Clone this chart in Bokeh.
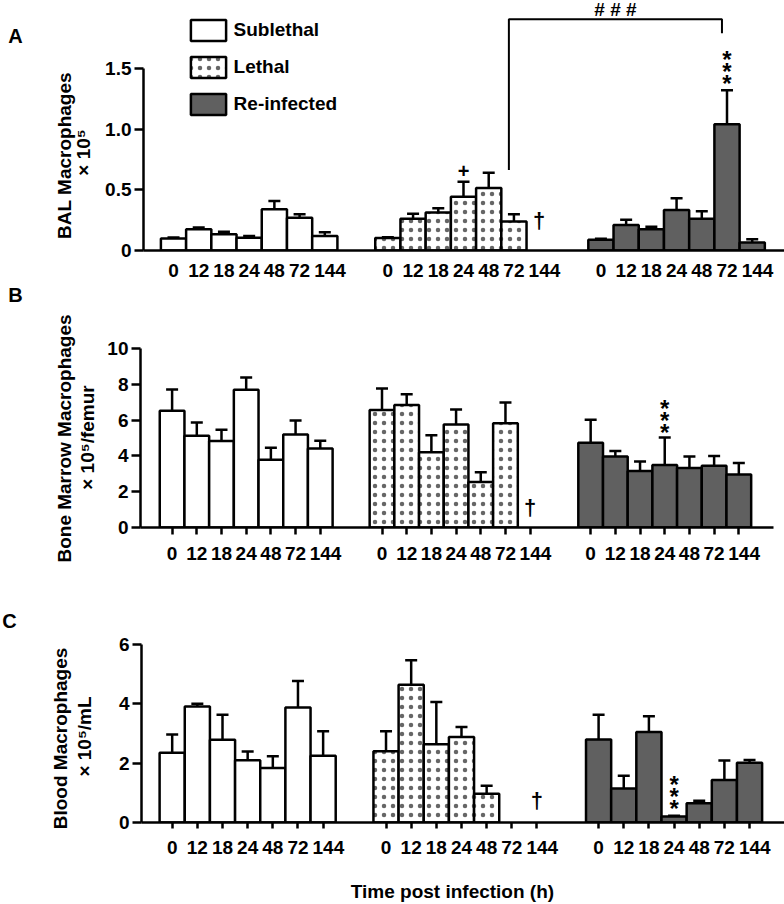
import math
from bokeh.plotting import figure
from bokeh.layouts import column, row
from bokeh.models import (ColumnDataSource, Whisker, TeeHead, Legend, LegendItem,
                          FixedTicker, Range1d, Plot)
from bokeh.core.properties import value
from bokeh.embed import file_html
from bokeh.resources import INLINE

NAN = float("nan")
FONT = "Liberation Sans"

hours = ["0", "12", "18", "24", "48", "72", "144"]
groups = ["Sublethal", "Lethal", "Re-infected"]

# Panel A: BAL macrophages (x 10^5)
bal_sub = [0.10, 0.175, 0.135, 0.105, 0.34, 0.27, 0.12]
bal_sub_err = [0.008, 0.015, 0.02, 0.015, 0.07, 0.03, 0.03]
bal_let = [0.104, 0.262, 0.314, 0.445, 0.516, 0.24, NAN]
bal_let_err = [0.006, 0.041, 0.036, 0.123, 0.126, 0.06, NAN]
bal_rei = [0.088, 0.21, 0.175, 0.334, 0.262, 1.043, 0.066]
bal_rei_err = [0.01, 0.044, 0.022, 0.098, 0.063, 0.282, 0.027]

# Panel B: bone marrow macrophages (x 10^5/femur)
bm_sub = [6.52, 5.12, 4.83, 7.69, 3.78, 5.2, 4.41]
bm_sub_err = [1.19, 0.75, 0.63, 0.69, 0.67, 0.78, 0.43]
bm_let = [6.57, 6.84, 4.21, 5.75, 2.54, 5.83, NAN]
bm_let_err = [1.2, 0.61, 0.95, 0.84, 0.55, 1.15, NAN]
bm_rei = [4.73, 3.97, 3.15, 3.49, 3.32, 3.45, 2.96]
bm_rei_err = [1.29, 0.31, 0.54, 1.54, 0.65, 0.55, 0.65]

# Panel C: blood macrophages (x 10^5/mL)
bl_sub = [2.35, 3.91, 2.79, 2.10, 1.84, 3.88, 2.25]
bl_sub_err = [0.62, 0.09, 0.84, 0.29, 0.39, 0.89, 0.83]
bl_let = [2.40, 4.64, 2.64, 2.88, 0.97, NAN, NAN]
bl_let_err = [0.68, 0.83, 1.42, 0.34, 0.27, NAN, NAN]
bl_rei = [2.80, 1.15, 3.05, 0.20, 0.65, 1.43, 2.01]
bl_rei_err = [0.83, 0.43, 0.53, 0.03, 0.08, 0.66, 0.10]

group_offsets = [0.0, 8.5, 16.95]

GRAY = "#606060"
STRIP = 100
MAIN_W = 784 - STRIP
FA = {"frame_align": False} if "frame_align" in Plot.properties() else {}


def positions(g):
    return [i + group_offsets[g] for i in range(len(hours))]


def tick_text(h):
    if h == "144":
        return "\u00a0\u00a0144"
    return h


def make_panel(height, border_top, border_bottom, border_left, xr, yr, yticks, ylabels,
               series, tick_out, label_standoff, x_bound_end=None):
    p = figure(width=MAIN_W, height=height, output_backend="svg", toolbar_location=None,
               x_range=Range1d(*xr), y_range=Range1d(*yr),
               min_border_top=border_top, min_border_bottom=border_bottom,
               min_border_left=border_left, min_border_right=0, **FA)
    p.outline_line_color = None
    p.grid.visible = False

    renderers = []
    for g, (mean, err) in enumerate(series):
        xs = positions(g)
        upper = [m + e for m, e in zip(mean, err)]
        src = ColumnDataSource(dict(x=xs, top=mean, upper=upper))
        kw = dict(x="x", top="top", width=1.0, bottom=0, source=src,
                  line_color="black", line_width=2.5)
        if g == 0:
            r = p.vbar(fill_color="white", **kw)
        elif g == 1:
            r = p.vbar(fill_color="white", hatch_pattern="dot", hatch_color="black",
                       hatch_scale=9, hatch_alpha=0.6, **kw)
        else:
            r = p.vbar(fill_color=GRAY, **kw)
        renderers.append(r)
        wk = Whisker(base="x", lower="top", upper="upper", source=src, dimension="height",
                     lower_head=None,
                     upper_head=TeeHead(size=12, line_width=2.5, line_color="black"),
                     line_width=2.5, line_color="black", level="glyph")
        p.add_layout(wk)

    all_x = [x for g in range(3) for x in positions(g)]
    p.xaxis.ticker = FixedTicker(ticks=all_x)
    p.xaxis.major_label_overrides = {x: tick_text(hours[i % 7]) for i, x in enumerate(all_x)}
    p.xaxis.minor_tick_line_color = None
    p.xaxis.major_tick_in = 0
    p.xaxis.major_tick_out = tick_out
    p.xaxis.major_label_standoff = label_standoff
    if x_bound_end is not None:
        p.xaxis.bounds = (xr[0], x_bound_end)

    p.yaxis.ticker = FixedTicker(ticks=yticks)
    p.yaxis.major_label_overrides = {t: l for t, l in zip(yticks, ylabels)}
    p.yaxis.bounds = (yticks[0], yticks[-1])
    p.yaxis.minor_tick_line_color = None
    p.yaxis.major_tick_in = 0
    p.yaxis.major_tick_out = 9
    p.yaxis.major_label_standoff = 3

    for ax in (p.xaxis, p.yaxis):
        ax.axis_line_width = 2.5
        ax.axis_line_color = "black"
        ax.major_tick_line_width = 2.5
        ax.major_tick_line_color = "black"
        ax.major_label_text_font = FONT
        ax.major_label_text_font_style = "bold"
        ax.major_label_text_font_size = "19px"
        ax.major_label_text_color = "black"
    return p, renderers


def make_strip(height, items):
    s = figure(width=STRIP, height=height, output_backend="svg", toolbar_location=None,
               x_range=Range1d(0, STRIP), y_range=Range1d(height, 0),
               x_axis_type=None, y_axis_type=None, min_border=0, **FA)
    s.outline_line_color = None
    s.grid.visible = False
    txt, xs, ys, sizes, angles = zip(*items)
    s.text(x=list(xs), y=list(ys), text=list(txt), angle=list(angles),
           text_font_size=list(sizes), text_font=value(FONT), text_font_style="bold",
           text_align="center", text_baseline="middle", text_color="black")
    return s


def add_text(p, xs, ys, texts, size, yoff=None):
    kw = {}
    if yoff is not None:
        kw["y_offset"] = yoff
    p.text(x=xs, y=ys, text=texts, text_font=value(FONT), text_font_style="bold",
           text_font_size=size, text_align="center", text_baseline="middle",
           text_color="black", **kw)


def stars(p, x, y):
    add_text(p, [x] * 3, [y] * 3, ["*"] * 3, "24px", yoff=[-12, 0, 12])


UP = math.pi / 2

# ---------------- Panel A ----------------
pA, rA = make_panel(283, 0, 31, 43, (-1.19, 24.23), (0, 252 / 122),
                    [0, 0.5, 1.0, 1.5], ["0", "0.5", "1.0", "1.5"],
                    [(bal_sub, bal_sub_err), (bal_let, bal_let_err), (bal_rei, bal_rei_err)],
                    0, 9)
xl, xre = positions(1), positions(2)
add_text(pA, [xl[3]], [0.66], ["+"], "20px")
add_text(pA, [xl[6]], [0.25], ["\u2020"], "22px")
stars(pA, xre[5], 1.48)
bracket_x = [xl[5] - 0.2, xl[5] - 0.2, xre[5] - 0.2, xre[5] - 0.2]
bracket_y = [0.666, 1.91, 1.91, 1.795]
pA.line(x=bracket_x, y=bracket_y, line_color="black", line_width=2)
add_text(pA, [(bracket_x[0] + bracket_x[2]) / 2], [1.99], ["# # #"], "19px")
legend = Legend(items=[LegendItem(label=groups[i], renderers=[rA[i]]) for i in range(3)],
                location=(42.6, 132.6), glyph_width=44, glyph_height=26, spacing=11,
                label_standoff=4, padding=0, margin=0, border_line_color=None,
                background_fill_alpha=0, label_text_font=FONT, label_text_color="black",
                label_text_font_style="bold", label_text_font_size="19px")
pA.add_layout(legend)
sA = make_strip(283, [("A", 15, 35, "20px", 0.0),
                      ("BAL Macrophages", 64, 155, "19px", UP),
                      ("\u00d7 10\u2075", 83, 152, "19px", UP)])

# ---------------- Panel B ----------------
pB, rB = make_panel(302, 65, 58, 40, (-1.28, 24.8), (0, 10),
                    [0, 2, 4, 6, 8, 10], ["0", "2", "4", "6", "8", "10"],
                    [(bm_sub, bm_sub_err), (bm_let, bm_let_err), (bm_rei, bm_rei_err)],
                    7, 8, x_bound_end=24.35)
add_text(pB, [positions(1)[6]], [1.1], ["\u2020"], "22px")
stars(pB, positions(2)[3], 5.96)
sB = make_strip(302, [("B", 15, 11, "20px", 0.0),
                      ("Bone Marrow Macrophages", 64, 155, "19px", UP),
                      ("\u00d7 10\u2075/femur", 87, 154, "19px", UP)])

# ---------------- Panel C ----------------
pC, rC = make_panel(319, 59, 80, 41, (-1.22, 24.34), (0, 6),
                    [0, 2, 4, 6], ["0", "2", "4", "6"],
                    [(bl_sub, bl_sub_err), (bl_let, bl_let_err), (bl_rei, bl_rei_err)],
                    6, 8)
add_text(pC, [positions(1)[6]], [0.74], ["\u2020"], "22px")
stars(pC, positions(2)[3], 0.86)
pC.xaxis.axis_label = "Time post infection (h)" + "\u00a0" * 4
pC.xaxis.axis_label_text_font = FONT
pC.xaxis.axis_label_text_font_style = "bold"
pC.xaxis.axis_label_text_font_size = "19px"
pC.xaxis.axis_label_text_color = "black"
pC.xaxis.axis_label_standoff = 20
sC = make_strip(319, [("C", 9, 35, "20px", 0.0),
                      ("Blood Macrophages", 60, 153, "19px", UP),
                      ("\u00d7 10\u2075/mL", 84, 151, "19px", UP)])

layout = column(row(sA, pA, spacing=0), row(sB, pB, spacing=0), row(sC, pC, spacing=0),
                spacing=0)
open("out.html", "w").write(file_html(layout, INLINE))
